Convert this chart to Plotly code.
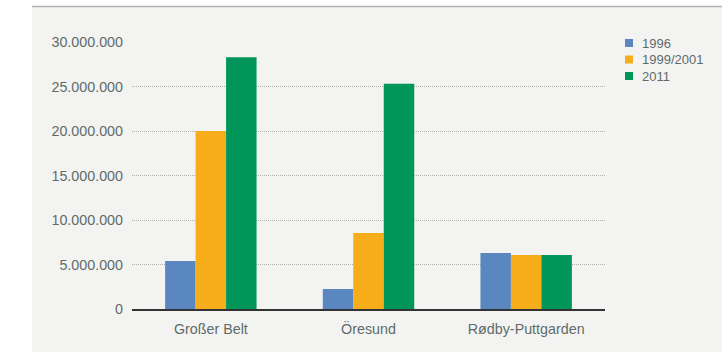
import plotly.graph_objects as go

categories = ["Großer Belt", "Öresund", "Rødby-Puttgarden"]
series_names = ["1996", "1999/2001", "2011"]
values_1996 = [5390000, 2250000, 6290000]
values_1999_2001 = [20000000, 8540000, 6070000]
values_2011 = [28300000, 25300000, 6070000]
y_ticks = [0, 5000000, 10000000, 15000000, 20000000, 25000000, 30000000]

colors = ["#5b87c0", "#f6ad19", "#00965a"]
text_color = "#5f6b69"
panel = "#f3f4f2"

fig = go.Figure()
for name, vals, c in zip(series_names, [values_1996, values_1999_2001, values_2011], colors):
    fig.add_trace(go.Bar(x=categories, y=vals, name=name, marker_color=c,
                         marker_line_width=0, showlegend=False))

W, H = 722, 352
L, R, T, B = 132, 117, 42, 43
pw, ph = W - L - R, H - T - B

def px_x(p):
    return (p - L) / pw

def px_y(p):
    return (H - B - p) / ph

shapes = [
    dict(type="rect", xref="paper", yref="paper", x0=px_x(0), x1=px_x(32),
         y0=px_y(H), y1=px_y(0), fillcolor="white", line_width=0, layer="below"),
    dict(type="rect", xref="paper", yref="paper", x0=px_x(32), x1=px_x(W),
         y0=px_y(6), y1=px_y(0), fillcolor="white", line_width=0, layer="below"),
    dict(type="line", xref="paper", yref="paper", x0=px_x(32), x1=px_x(W),
         y0=px_y(6.5), y1=px_y(6.5), line=dict(color="#b4b4b4", width=1.5)),
]
annotations = []
legend_y = [43, 59.5, 76]
for name, c, ly in zip(series_names, colors, legend_y):
    shapes.append(dict(type="rect", xref="paper", yref="paper",
                       x0=px_x(625), x1=px_x(633), y0=px_y(ly + 4), y1=px_y(ly - 4),
                       fillcolor=c, line_width=0))
    annotations.append(dict(text=name, xref="paper", yref="paper", x=px_x(640), y=px_y(ly),
                            xanchor="left", yanchor="middle", showarrow=False,
                            font=dict(size=13, color=text_color)))

fig.update_layout(
    width=W, height=H,
    margin=dict(l=L, r=R, t=T, b=B, autoexpand=False),
    paper_bgcolor=panel,
    plot_bgcolor=panel,
    separators=",.",
    bargap=0.42,
    bargroupgap=0,
    font=dict(family="Liberation Sans, Arial, sans-serif", color=text_color, size=14.3),
    showlegend=False,
    xaxis=dict(showgrid=False, showline=True, linecolor="#333333", linewidth=1.5,
               ticks="", ticklabelstandoff=6),
    yaxis=dict(range=[0, 30000000], tickvals=y_ticks, tickformat=",d",
               showgrid=True, gridcolor="#b0b0b0", griddash="1px,1px", gridwidth=1,
               zeroline=False, showline=False, ticks="", ticklabelstandoff=8),
    shapes=shapes,
    annotations=annotations,
)

fig.write_html("out.html")
